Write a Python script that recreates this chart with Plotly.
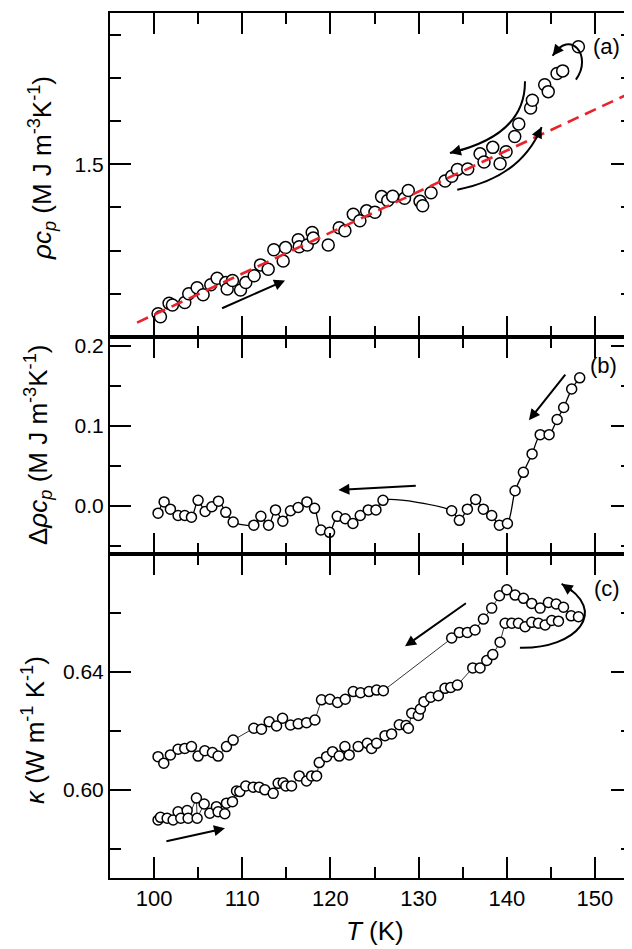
import plotly.graph_objects as go

FONT = "Liberation Sans, Arial, Helvetica, sans-serif"

# ---------------- Panel (a): rho c_p (MJ m^-3 K^-1) ----------------
a_T = [100.45, 100.72, 101.70, 102.08, 103.48, 103.93, 104.88, 105.56, 106.43, 107.15,
       108.13, 108.29, 108.89, 109.80, 110.40, 111.35, 112.07, 112.94, 113.58, 114.64,
       114.91, 116.35, 116.46, 117.37, 117.93, 118.05, 119.75, 121.00, 121.64, 122.59,
       123.34, 124.10, 125.05, 125.80, 126.50, 127.06, 128.40, 128.83, 130.16, 130.46,
       131.41, 133.00, 133.76, 134.40, 135.57, 136.97, 137.42, 138.41, 139.24, 139.92,
       140.90, 141.36, 142.70, 142.90, 144.30, 144.70, 145.70, 146.34, 148.12]
a_cp = [1.154, 1.147, 1.178, 1.174, 1.180, 1.200, 1.214, 1.198, 1.221, 1.236,
        1.226, 1.211, 1.231, 1.209, 1.226, 1.242, 1.267, 1.257, 1.302, 1.276,
        1.307, 1.325, 1.309, 1.313, 1.342, 1.329, 1.313, 1.353, 1.346, 1.384,
        1.369, 1.392, 1.389, 1.425, 1.416, 1.426, 1.421, 1.439, 1.414, 1.404,
        1.434, 1.461, 1.472, 1.488, 1.489, 1.524, 1.505, 1.539, 1.501, 1.529,
        1.564, 1.593, 1.630, 1.648, 1.684, 1.668, 1.710, 1.716, 1.772]
fit_T = [98.07, 155.0]
fit_cp = [1.1334, 1.674]

# ---------------- Panel (b): excess rho c_p ----------------
b_T = [100.45, 101.14, 101.85, 102.72, 103.48, 104.24, 104.99, 105.79, 106.55, 107.30,
       108.13, 108.97, 111.31, 112.11, 112.98, 113.77, 114.60, 115.47, 116.34, 117.33,
       118.20, 118.92, 119.90, 120.77, 121.68, 122.55, 123.38, 124.29, 125.16, 125.96,
       133.75, 134.62, 135.53, 136.47, 137.34, 138.29, 139.16, 140.07, 140.94, 141.88,
       142.87, 143.79, 144.80, 145.71, 146.45, 147.36, 148.27]
b_dcp = [-0.009, 0.005, -0.004, -0.012, -0.012, -0.014, 0.007, -0.007, -0.001, 0.006,
         -0.008, -0.020, -0.024, -0.013, -0.024, -0.005, -0.019, -0.006, -0.002, 0.005,
         -0.003, -0.030, -0.033, -0.013, -0.016, -0.022, -0.012, -0.005, -0.005, 0.007,
         -0.006, -0.018, -0.004, 0.008, -0.004, -0.012, -0.024, -0.022, 0.019, 0.042,
         0.065, 0.089, 0.089, 0.108, 0.123, 0.146, 0.160]

# ---------------- Panel (c): thermal conductivity ----------------
c_heat_T = [100.45, 100.72, 101.48, 102.16, 102.72, 103.03, 103.75, 103.86, 104.80, 104.88,
            105.68, 106.32, 107.07, 107.26, 108.02, 108.21, 108.89, 109.35, 109.72, 110.40,
            111.24, 111.92, 112.56, 113.51, 114.07, 114.64, 114.94, 115.59, 116.46, 117.29,
            117.86, 118.43, 118.73, 119.56, 120.24, 121.00, 121.64, 122.13, 123.15, 124.18,
            124.67, 125.24, 126.19, 126.94, 127.81, 128.57, 128.84, 129.22, 129.97, 130.20,
            130.61, 131.37, 132.24, 132.99, 133.64, 134.40, 136.14, 136.97, 137.73, 138.41,
            139.24, 139.81, 140.57, 141.32, 142.08, 142.83, 143.59, 144.35, 145.10, 145.86]
c_heat_k = [0.5899, 0.5908, 0.5905, 0.5899, 0.5927, 0.5905, 0.5931, 0.5905, 0.5973, 0.5905,
            0.5953, 0.5922, 0.5944, 0.5927, 0.5920, 0.5956, 0.5961, 0.5997, 0.5995, 0.6014,
            0.6010, 0.6010, 0.6001, 0.5989, 0.6023, 0.6025, 0.6014, 0.6014, 0.6048, 0.6031,
            0.6048, 0.6048, 0.6093, 0.6113, 0.6130, 0.6115, 0.6147, 0.6119, 0.6147, 0.6158,
            0.6141, 0.6158, 0.6184, 0.6190, 0.6221, 0.6218, 0.6209, 0.6260, 0.6252, 0.6274,
            0.6299, 0.6314, 0.6319, 0.6344, 0.6347, 0.6355, 0.6413, 0.6413, 0.6438, 0.6458,
            0.6500, 0.6564, 0.6564, 0.6564, 0.6552, 0.6567, 0.6564, 0.6558, 0.6573, 0.6571]
c_cool_T = [100.45, 101.10, 101.85, 102.72, 103.48, 104.24, 104.99, 105.75, 106.62, 107.26,
            108.21, 108.97, 111.31, 112.18, 113.05, 113.89, 114.57, 115.47, 116.35, 117.29,
            118.24, 118.99, 119.94, 120.81, 121.68, 122.59, 123.42, 124.37, 125.24, 126.00,
            133.75, 134.62, 135.53, 136.40, 137.35, 138.29, 139.17, 140.00, 140.94, 141.89,
            142.83, 143.78, 144.72, 145.60, 146.43, 147.30, 148.13]
c_cool_k = [0.6113, 0.6091, 0.6119, 0.6138, 0.6141, 0.6147, 0.6115, 0.6133, 0.6127, 0.6115,
            0.6147, 0.6169, 0.6209, 0.6206, 0.6231, 0.6217, 0.6243, 0.6220, 0.6224, 0.6228,
            0.6237, 0.6305, 0.6307, 0.6296, 0.6307, 0.6333, 0.6329, 0.6333, 0.6338, 0.6336,
            0.6514, 0.6533, 0.6533, 0.6541, 0.6578, 0.6615, 0.6657, 0.6677, 0.6659, 0.6648,
            0.6631, 0.6615, 0.6634, 0.6629, 0.6618, 0.6589, 0.6586]

x_tick_labels = ["100", "110", "120", "130", "140", "150"]

fig = go.Figure()

circ = dict(symbol="circle", color="white", line=dict(color="black", width=1.5))

fig.add_trace(go.Scatter(x=a_T, y=a_cp, mode="markers", marker=dict(size=12, **circ),
                         xaxis="x", yaxis="y", showlegend=False))
fig.add_trace(go.Scatter(x=fit_T, y=fit_cp, mode="lines",
                         line=dict(color="#e8232b", width=2.6, dash="12px,7px"),
                         xaxis="x", yaxis="y", showlegend=False))

fig.add_trace(go.Scatter(x=b_T, y=b_dcp, mode="lines+markers",
                         line=dict(color="black", width=1.3, shape="spline", smoothing=0.8),
                         marker=dict(size=10, **circ),
                         xaxis="x2", yaxis="y2", showlegend=False))

fig.add_trace(go.Scatter(x=c_heat_T, y=c_heat_k, mode="lines+markers",
                         line=dict(color="black", width=0.8),
                         marker=dict(size=10, **circ),
                         xaxis="x3", yaxis="y3", showlegend=False))
fig.add_trace(go.Scatter(x=c_cool_T, y=c_cool_k, mode="lines+markers",
                         line=dict(color="black", width=0.8),
                         marker=dict(size=10, **circ),
                         xaxis="x3", yaxis="y3", showlegend=False))

tickfont = dict(family=FONT, size=21, color="black")
xcommon = dict(range=[95, 154.2], tickmode="array", tickvals=[100, 110, 120, 130, 140, 150],
               ticktext=x_tick_labels, ticks="inside", ticklen=21, tickwidth=2, tickcolor="black",
               minor=dict(tickmode="linear", tick0=95, dtick=5, ticks="inside", ticklen=11,
                          tickwidth=2, tickcolor="black", showgrid=False),
               showline=True, linewidth=2, linecolor="black", mirror="ticks",
               showgrid=False, zeroline=False, automargin=False,
               tickfont=dict(family=FONT, size=22, color="black"))
ycommon = dict(ticks="inside", ticklen=21, tickwidth=2, tickcolor="black",
               showline=True, linewidth=2, linecolor="black", mirror="ticks",
               showgrid=False, zeroline=False, automargin=False, tickfont=tickfont)

dom_a = [0.6254, 1.0]
dom_b = [0.3746, 0.6254]
dom_c = [0.0, 0.3746]

# the page body has an 8 px margin, so the figure is sized to fill the window from (8, 8)
fig.update_layout(
    template="none",
    width=624, height=941, autosize=False,
    margin=dict(l=102, r=0, t=5, b=71, pad=0),
    paper_bgcolor="white", plot_bgcolor="white",
    font=dict(family=FONT, color="black"),
    showlegend=False,
    xaxis=dict(**xcommon, anchor="y", showticklabels=False),
    xaxis2=dict(**xcommon, anchor="y2", showticklabels=False, matches="x"),
    xaxis3=dict(**xcommon, anchor="y3", showticklabels=True, matches="x"),
    yaxis=dict(**ycommon, domain=dom_a, anchor="x", range=[1.1, 1.85],
               tickmode="linear", tick0=1.0, dtick=0.5, tickformat=".1f",
               minor=dict(tickmode="linear", tick0=1.0, dtick=0.1, ticks="inside", ticklen=11,
                          tickwidth=2, tickcolor="black", showgrid=False)),
    yaxis2=dict(**ycommon, domain=dom_b, anchor="x2", range=[-0.06, 0.211],
                tickmode="linear", tick0=0, dtick=0.1, tickformat=".1f",
                minor=dict(tickmode="linear", tick0=0, dtick=0.05, ticks="inside", ticklen=11,
                           tickwidth=2, tickcolor="black", showgrid=False)),
    yaxis3=dict(**ycommon, domain=dom_c, anchor="x3", range=[0.5703, 0.6798],
                tickmode="linear", tick0=0.60, dtick=0.04, tickformat=".2f",
                minor=dict(tickmode="linear", tick0=0.58, dtick=0.02, ticks="inside", ticklen=11,
                           tickwidth=2, tickcolor="black", showgrid=False)),
)

annotations = []
shapes = []

PW = 522.0   # plot width px
PH = 865.0   # plot height px
def px_x(px):   # screen px -> paper fraction
    return (px - 110) / PW
def px_y(py):
    return 1 - (py - 13) / PH

title_font = dict(family=FONT, size=26, color="black")
annotations.append(dict(text="<i>ρc<sub>p</sub></i> (M J m<sup>-3</sup>K<sup>-1</sup>)",
                        xref="paper", yref="paper", x=px_x(42), y=px_y(168), textangle=-90,
                        showarrow=False, xanchor="center", yanchor="middle", font=title_font))
annotations.append(dict(text="Δ<i>ρc<sub>p</sub></i> (M J m<sup>-3</sup>K<sup>-1</sup>)",
                        xref="paper", yref="paper", x=px_x(38), y=px_y(445), textangle=-90,
                        showarrow=False, xanchor="center", yanchor="middle", font=title_font))
annotations.append(dict(text="<i>κ</i> (W m<sup>-1</sup> K<sup>-1</sup>)",
                        xref="paper", yref="paper", x=px_x(33), y=px_y(730), textangle=-90,
                        showarrow=False, xanchor="center", yanchor="middle", font=title_font))
annotations.append(dict(text="<i>T</i> (K)", xref="paper", yref="paper",
                        x=px_x(375), y=px_y(931), showarrow=False,
                        xanchor="center", yanchor="middle", font=title_font))

lab_font = dict(family=FONT, size=22, color="black")
for txt, xr, yr, xv, yv in [("(a)", "x", "y", 151.33, 1.773),
                            ("(b)", "x2", "y2", 150.95, 0.176),
                            ("(c)", "x3", "y3", 151.40, 0.668)]:
    annotations.append(dict(text=txt, xref=xr, yref=yr, x=xv, y=yv, showarrow=False,
                            xanchor="center", yanchor="middle", font=lab_font))

def arrow(xr, yr, tail, head):
    annotations.append(dict(text="", xref=xr, yref=yr, axref=xr, ayref=yr,
                            x=head[0], y=head[1], ax=tail[0], ay=tail[1],
                            showarrow=True, arrowhead=2, arrowsize=1.1, arrowwidth=2,
                            arrowcolor="black"))

def qbez(p0, c, p1, t):
    return ((1 - t) ** 2 * p0[0] + 2 * (1 - t) * t * c[0] + t ** 2 * p1[0],
            (1 - t) ** 2 * p0[1] + 2 * (1 - t) * t * c[1] + t ** 2 * p1[1])

def cbez(p0, c1, c2, p1, t):
    u = 1 - t
    return (u ** 3 * p0[0] + 3 * u * u * t * c1[0] + 3 * u * t * t * c2[0] + t ** 3 * p1[0],
            u ** 3 * p0[1] + 3 * u * u * t * c1[1] + 3 * u * t * t * c2[1] + t ** 3 * p1[1])

def curved_q(xr, yr, p0, c, p1):
    shapes.append(dict(type="path", xref=xr, yref=yr,
                       path=f"M {p0[0]},{p0[1]} Q {c[0]},{c[1]} {p1[0]},{p1[1]}",
                       line=dict(color="black", width=2)))
    arrow(xr, yr, qbez(p0, c, p1, 0.9), p1)

def curved_c(xr, yr, p0, c1, c2, p1):
    shapes.append(dict(type="path", xref=xr, yref=yr,
                       path=f"M {p0[0]},{p0[1]} C {c1[0]},{c1[1]} {c2[0]},{c2[1]} {p1[0]},{p1[1]}",
                       line=dict(color="black", width=2)))
    arrow(xr, yr, cbez(p0, c1, c2, p1, 0.9), p1)

# panel (a) arrows
arrow("x", "y", (107.54, 1.165), (114.85, 1.231))
curved_q("x", "y", (142.06, 1.692), (142.14, 1.567), (133.55, 1.526))
curved_q("x", "y", (134.38, 1.441), (141.55, 1.4685), (143.95, 1.586))
curved_c("x", "y", (147.84, 1.696), (149.81, 1.75), (147.16, 1.8155), (145.2, 1.751))

# panel (b) arrows
arrow("x2", "y2", (129.85, 0.0254), (120.9, 0.020))
arrow("x2", "y2", (146.77, 0.166), (142.51, 0.107))

# panel (c) arrows
arrow("x3", "y3", (101.23, 0.5826), (108.04, 0.5871))
arrow("x3", "y3", (135.53, 0.6635), (128.46, 0.6486))
curved_c("x3", "y3", (141.49, 0.6481), (147.92, 0.6477), (151.70, 0.6606), (146.22, 0.6697))

fig.update_layout(annotations=annotations, shapes=shapes)

fig.write_html("out.html")
